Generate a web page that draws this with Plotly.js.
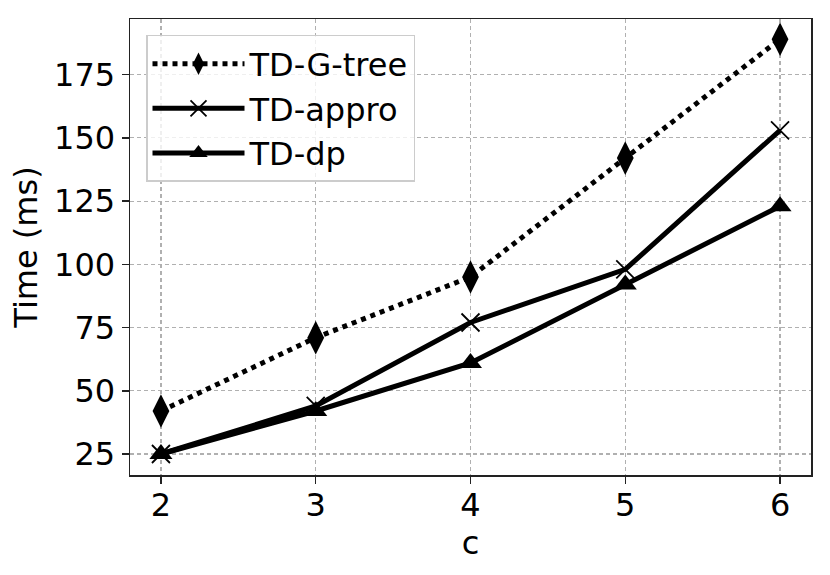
<!DOCTYPE html>
<html>
<head>
<meta charset="utf-8">
<script src="https://cdn.plot.ly/plotly-3.0.1.min.js"></script>
<style>html,body{margin:0;padding:0;background:#fff;}</style>
</head>
<body>
<div id="chart" style="width:830px;height:575px;"></div>
<script>
const cValues = [2, 3, 4, 5, 6];
const gtreeTimes = [42, 71, 95, 142, 189];
const approTimes = [25, 44, 77, 98, 153];
const dpTimes = [25, 42, 61, 92, 123];
const yTicks = [25, 50, 75, 100, 125, 150, 175];
const xTicks = [2, 3, 4, 5, 6];

const font = 'DejaVu Sans, Liberation Sans, sans-serif';

const traces = [
  {
    x: cValues, y: gtreeTimes, name: 'TD-G-tree', mode: 'lines+markers',
    line: {color: 'black', width: 5, dash: 'dot'},
    marker: {symbol: 'diamond-tall', size: 24, color: 'black'}
  },
  {
    x: cValues, y: approTimes, name: 'TD-appro', mode: 'lines+markers',
    line: {color: 'black', width: 5},
    marker: {symbol: 'x-thin', size: 18, color: 'black', line: {color: 'black', width: 1.8}}
  },
  {
    x: cValues, y: dpTimes, name: 'TD-dp', mode: 'lines+markers',
    line: {color: 'black', width: 5},
    marker: {symbol: 'triangle-up', size: 20, color: 'black'}
  }
];

const axisCommon = {
  showline: true, mirror: true, linecolor: '#222', linewidth: 1.5,
  showgrid: true, gridcolor: '#b0b0b0', gridwidth: 1.2, griddash: '4px,3px',
  ticks: 'outside', ticklen: 7, tickwidth: 1.5, tickcolor: '#222',
  zeroline: false,
  tickfont: {family: font, size: 32, color: 'black'}
};

const layout = {
  width: 830, height: 575,
  margin: {l: 130, r: 19, t: 19, b: 100},
  paper_bgcolor: 'white', plot_bgcolor: 'white',
  font: {family: font, color: 'black'},
  xaxis: Object.assign({}, axisCommon, {
    range: [1.8, 6.2], tickvals: xTicks, ticktext: xTicks.map(String),
    ticklabelstandoff: -6,
    title: {text: 'c', font: {family: font, size: 32, color: 'black'}, standoff: 2}
  }),
  yaxis: Object.assign({}, axisCommon, {
    range: [16.7, 197], tickvals: yTicks, ticktext: yTicks.map(String),
    title: {text: 'Time (ms)', font: {family: font, size: 32, color: 'black'}, standoff: 7}
  }),
  legend: {
    x: 0.0235, y: 0.965, xanchor: 'left', yanchor: 'top',
    bgcolor: 'rgba(255,255,255,0.8)', bordercolor: '#cccccc', borderwidth: 1.5,
    font: {family: font, size: 32, color: 'black'},
    itemwidth: 92, tracegroupgap: 4
  },
  showlegend: true
};

Plotly.newPlot('chart', traces, layout, {displayModeBar: false, staticPlot: true});
</script>
</body>
</html>
